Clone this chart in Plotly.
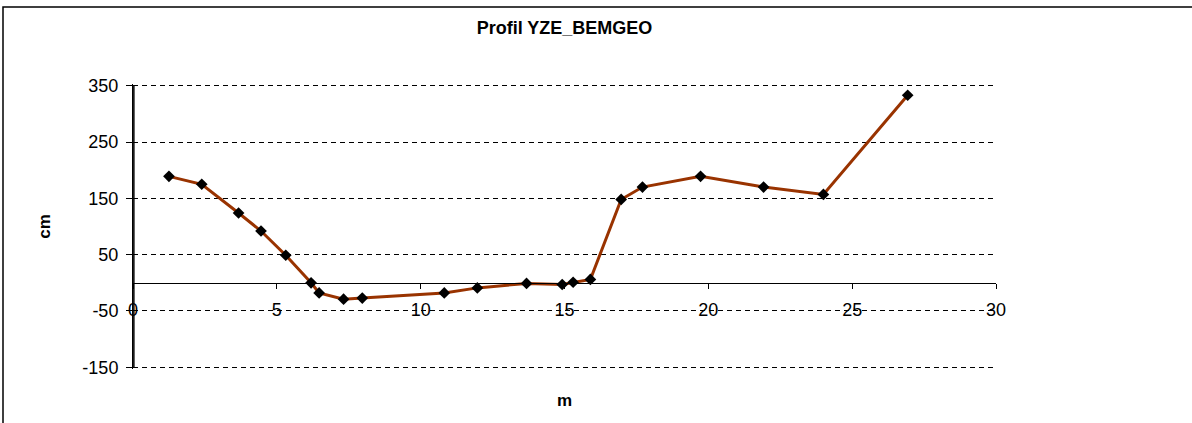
import plotly.graph_objects as go

# --- DATA ---
distance_m = [1.25, 2.39, 3.67, 4.45, 5.31, 6.19, 6.47, 7.32, 7.97, 10.82, 11.97,
              13.68, 14.92, 15.3, 15.9, 16.97, 17.71, 19.73, 21.92, 24.0, 26.93]
height_cm = [189, 175, 124, 92, 49, 0, -18, -29, -27, -18, -9,
             -1, -3, 1, 6, 148, 170, 189, 170, 157, 333]

x_ticks = [0, 5, 10, 15, 20, 25, 30]
y_ticks = [-150, -50, 50, 150, 250, 350]

TITLE = "Profil YZE_BEMGEO"
FONT = "Liberation Sans, Arial, sans-serif"

W, H = 1192, 423
# plot area in pixels (range padded a little so the end gridlines are kept)
y_min, y_max = -153, 353
L, R, T, B = 133, 996, 84, 369


def px_to_paper(px, py):
    return (px - L) / (R - L), (B - py) / (B - T)


def y_to_paper(v):
    return (v - y_min) / (y_max - y_min)


fig = go.Figure()
fig.add_trace(go.Scatter(
    x=distance_m, y=height_cm, mode="lines+markers",
    line=dict(color="#993300", width=3),
    marker=dict(symbol="diamond", size=9, color="black"),
    showlegend=False,
))

# outer chart frame (runs past the right/bottom of the window like the reference)
x0, y0 = px_to_paper(3, 7)
x1, y1 = px_to_paper(1196, 430)
fig.add_shape(type="rect", xref="paper", yref="paper", x0=x0, y0=y1, x1=x1, y1=y0,
              line=dict(color="black", width=1.5), layer="below")

# value axis line, spanning the gridded range only
fig.add_shape(type="line", xref="paper", yref="paper", x0=0.001, x1=0.001,
              y0=y_to_paper(y_ticks[0]), y1=y_to_paper(y_ticks[-1]),
              line=dict(color="black", width=1.5), layer="above")

fig.update_layout(
    width=W, height=H,
    margin=dict(l=L, r=W - R, t=T, b=H - B),
    paper_bgcolor="white", plot_bgcolor="white",
    font=dict(family=FONT, size=18, color="black"),
    title=dict(text=f"<b>{TITLE}</b>", x=(L + R) / 2 / W, xanchor="center",
               y=1 - 28 / H, yanchor="middle", font=dict(size=18)),
    xaxis=dict(
        range=[0, 30], tickvals=x_ticks, ticktext=[str(v) for v in x_ticks],
        showgrid=False, zeroline=False,
        showline=True, linecolor="black", linewidth=1,
        ticks="outside", ticklen=5, tickcolor="black",
        anchor="free", position=y_to_paper(0),
        ticklabelstandoff=6,
        title=dict(text="<b>m</b>", font=dict(size=17), standoff=74),
    ),
    yaxis=dict(
        range=[y_min, y_max], tickvals=y_ticks, ticktext=[str(v) for v in y_ticks],
        showgrid=True, gridcolor="black", griddash="5px,4px", gridwidth=1,
        zeroline=False, showline=True, linecolor="black", linewidth=1,
        layer="above traces",
        ticks="outside", ticklen=6, tickcolor="black", ticklabelstandoff=4,
        title=dict(text="<b>cm</b>", font=dict(size=17), standoff=27),
    ),
)

fig.write_html("out.html", config={"displayModeBar": False},
               post_script="document.body.style.margin='0';")
